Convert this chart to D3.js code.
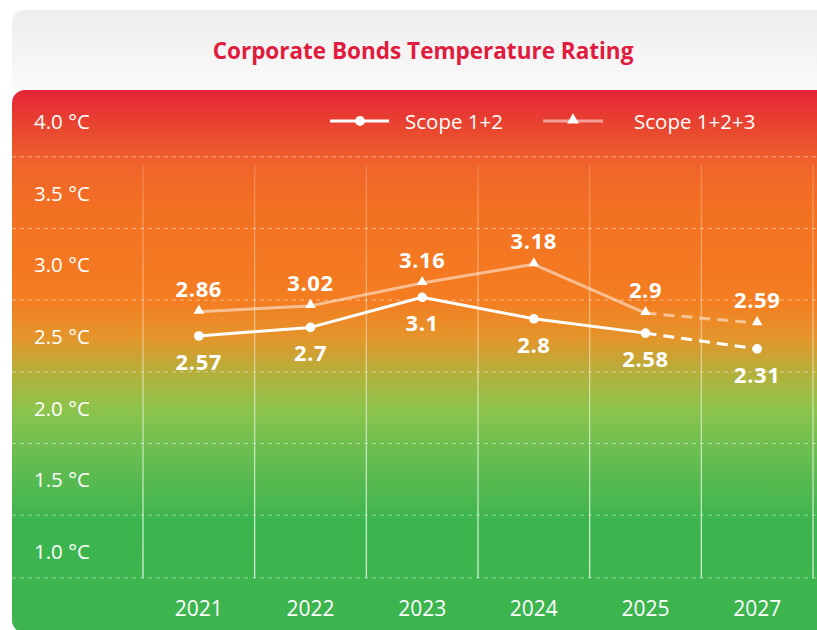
<!DOCTYPE html>
<html>
<head>
<meta charset="utf-8">
<script src="https://cdn.jsdelivr.net/npm/d3@7"></script>
<style>
  body { margin: 0; background: #fff; }
  svg { display: block; font-family: "Open Sans", sans-serif; }
</style>
</head>
<body>
<div class="center"></div>
<script>
// Data
const years = ["2021", "2022", "2023", "2024", "2025", "2027"];
// where the source chart places each marker, in °C on its own axis
const scope12Plot  = [2.50, 2.56, 2.77, 2.62, 2.52, 2.41];
const scope123Plot = [2.67, 2.71, 2.87, 3.00, 2.66, 2.59];
// values printed next to the markers
const scope12Labels  = ["2.57", "2.7", "3.1", "2.8", "2.58", "2.31"];
const scope123Labels = ["2.86", "3.02", "3.16", "3.18", "2.9", "2.59"];
const yTicks = [4.0, 3.5, 3.0, 2.5, 2.0, 1.5, 1.0];
const yGrid  = [3.75, 3.25, 2.75, 2.25, 1.75, 1.25];
const lastActual = 4; // index of 2025; segment after it is a projection (dashed)

const W = 817, H = 630;
const plotTop = 165, plotBottom = 578;

// scales
const xScale = d3.scaleBand().domain(years).range([143, 813]);
const yScale = d3.scaleLinear().domain([1.0, 4.0]).range([551, 121]);
const cx = i => xScale(years[i]) + xScale.bandwidth() / 2;

const svg = d3.select(".center").append("svg")
    .attr("width", W)
    .attr("height", H);

const defs = svg.append("defs");

// header gradient
const hg = defs.append("linearGradient").attr("id", "hdr")
    .attr("x1", 0).attr("y1", 0).attr("x2", 0).attr("y2", 1);
hg.append("stop").attr("offset", "0%").attr("stop-color", "#ededed");
hg.append("stop").attr("offset", "100%").attr("stop-color", "#fbfbfb");

// temperature background: red at the top, green at the bottom
const bg = defs.append("linearGradient").attr("id", "temp")
    .attr("gradientUnits", "userSpaceOnUse")
    .attr("x1", 0).attr("y1", 90).attr("x2", 0).attr("y2", 630);
[
  [90, "#e42537"], [130, "#e9482f"], [165, "#f0642a"], [210, "#f37122"],
  [300, "#f47d21"], [338, "#e4952b"], [374, "#b3b13b"], [410, "#8cc44c"],
  [450, "#6cbe50"], [520, "#3db54f"], [630, "#3cb54f"]
].forEach(s => bg.append("stop")
    .attr("offset", ((s[0] - 90) / 540 * 100) + "%")
    .attr("stop-color", s[1]));

// vertical gridline stroke, fainter at the top
const vg = defs.append("linearGradient").attr("id", "vgrid")
    .attr("gradientUnits", "userSpaceOnUse")
    .attr("x1", 0).attr("y1", plotTop).attr("x2", 0).attr("y2", plotBottom);
vg.append("stop").attr("offset", "0%").attr("stop-color", "#fff").attr("stop-opacity", 0.2);
vg.append("stop").attr("offset", "100%").attr("stop-color", "#fff").attr("stop-opacity", 0.85);

// header box and title
svg.append("rect")
    .attr("x", 12).attr("y", 10)
    .attr("width", 830).attr("height", 84)
    .attr("rx", 13)
    .style("fill", "url(#hdr)");

svg.append("text")
    .attr("x", 423)
    .attr("y", 50)
    .attr("text-anchor", "middle")
    .attr("dominant-baseline", "central")
    .style("font-size", "22.5px")
    .style("font-weight", "700")
    .style("fill", "#e01b3d")
    .text("Corporate Bonds Temperature Rating");

// main panel
svg.append("rect")
    .attr("x", 12).attr("y", 90)
    .attr("width", 830).attr("height", 543)
    .attr("rx", 13)
    .style("fill", "url(#temp)");

// horizontal dashed gridlines
svg.selectAll(".hgrid")
    .data(yGrid)
    .enter().append("line")
    .attr("class", "hgrid")
    .attr("x1", 12).attr("x2", W)
    .attr("y1", d => yScale(d)).attr("y2", d => yScale(d))
    .style("stroke", "rgba(255,255,255,0.45)")
    .style("stroke-dasharray", "4,4");

svg.append("line")
    .attr("x1", 12).attr("x2", W)
    .attr("y1", plotBottom).attr("y2", plotBottom)
    .style("stroke", "rgba(255,255,255,0.45)")
    .style("stroke-dasharray", "4,4");

// vertical gridlines at band edges
const edges = years.map(d => xScale(d)).concat([xScale.range()[1]]);
svg.selectAll(".vgrid")
    .data(edges)
    .enter().append("line")
    .attr("class", "vgrid")
    .attr("x1", d => d).attr("x2", d => d)
    .attr("y1", plotTop).attr("y2", plotBottom)
    .style("stroke", "url(#vgrid)")
    .style("stroke-width", 1.2);

// y labels
svg.selectAll(".ylab")
    .data(yTicks)
    .enter().append("text")
    .attr("class", "ylab")
    .attr("x", 34)
    .attr("y", d => yScale(d))
    .attr("dominant-baseline", "central")
    .style("font-size", "20.5px")
    .style("fill", "#fff")
    .text(d => d3.format(".1f")(d) + " \u00b0C");

// x labels
svg.selectAll(".xlab")
    .data(years)
    .enter().append("text")
    .attr("class", "xlab")
    .attr("x", (d, i) => cx(i))
    .attr("y", 608)
    .attr("text-anchor", "middle")
    .attr("dominant-baseline", "central")
    .style("font-size", "21px")
    .style("fill", "#fff")
    .text(d => d);

// lines
const line = d3.line()
    .x(d => cx(d.i))
    .y(d => yScale(d.v));

function drawSeries(vals, stroke) {
  const pts = vals.map((v, i) => ({ v: v, i: i }));
  svg.append("path")
      .datum(pts.slice(0, lastActual + 1))
      .attr("d", line)
      .style("fill", "none")
      .style("stroke", stroke)
      .style("stroke-width", 3)
      .style("stroke-linejoin", "round");
  svg.append("path")
      .datum(pts.slice(lastActual))
      .attr("d", line)
      .style("fill", "none")
      .style("stroke", stroke)
      .style("stroke-width", 3)
      .style("stroke-dasharray", "11,7");
  return pts;
}

const pts123 = drawSeries(scope123Plot, "rgba(255,255,255,0.5)");
const pts12 = drawSeries(scope12Plot, "#fff");

const tri = d3.symbol().type(d3.symbolTriangle).size(48);

svg.selectAll(".tri")
    .data(pts123)
    .enter().append("path")
    .attr("class", "tri")
    .attr("d", tri)
    .attr("transform", d => `translate(${cx(d.i)},${yScale(d.v) - 1})`)
    .style("fill", "#fff");

svg.selectAll(".dot")
    .data(pts12)
    .enter().append("circle")
    .attr("class", "dot")
    .attr("cx", d => cx(d.i))
    .attr("cy", d => yScale(d.v))
    .attr("r", 4.8)
    .style("fill", "#fff");

// value labels
svg.selectAll(".lab123")
    .data(pts123)
    .enter().append("text")
    .attr("class", "lab123")
    .attr("x", d => cx(d.i))
    .attr("y", d => yScale(d.v) - 24)
    .attr("text-anchor", "middle")
    .attr("dominant-baseline", "central")
    .style("font-size", "22px")
    .style("font-weight", "700")
    .style("letter-spacing", "0.6px")
    .style("fill", "#fff")
    .text(d => scope123Labels[d.i]);

svg.selectAll(".lab12")
    .data(pts12)
    .enter().append("text")
    .attr("class", "lab12")
    .attr("x", d => cx(d.i))
    .attr("y", d => yScale(d.v) + 25)
    .attr("text-anchor", "middle")
    .attr("dominant-baseline", "central")
    .style("font-size", "22px")
    .style("font-weight", "700")
    .style("letter-spacing", "0.6px")
    .style("fill", "#fff")
    .text(d => scope12Labels[d.i]);

// handmade legend
const legY = 121;
svg.append("line")
    .attr("x1", 330).attr("x2", 389)
    .attr("y1", legY).attr("y2", legY)
    .style("stroke", "#fff").style("stroke-width", 3);
svg.append("circle")
    .attr("cx", 360).attr("cy", legY).attr("r", 5)
    .style("fill", "#fff");
svg.append("text")
    .attr("x", 405).attr("y", legY)
    .attr("dominant-baseline", "central")
    .style("font-size", "20.5px")
    .style("fill", "#fff")
    .text("Scope 1+2");

svg.append("line")
    .attr("x1", 543).attr("x2", 603)
    .attr("y1", legY).attr("y2", legY)
    .style("stroke", "rgba(255,255,255,0.5)").style("stroke-width", 3);
svg.append("path")
    .attr("d", d3.symbol().type(d3.symbolTriangle).size(60))
    .attr("transform", `translate(573,${legY - 1})`)
    .style("fill", "#fff");
svg.append("text")
    .attr("x", 634).attr("y", legY)
    .attr("dominant-baseline", "central")
    .style("font-size", "20.5px")
    .style("fill", "#fff")
    .text("Scope 1+2+3");
</script>
</body>
</html>
